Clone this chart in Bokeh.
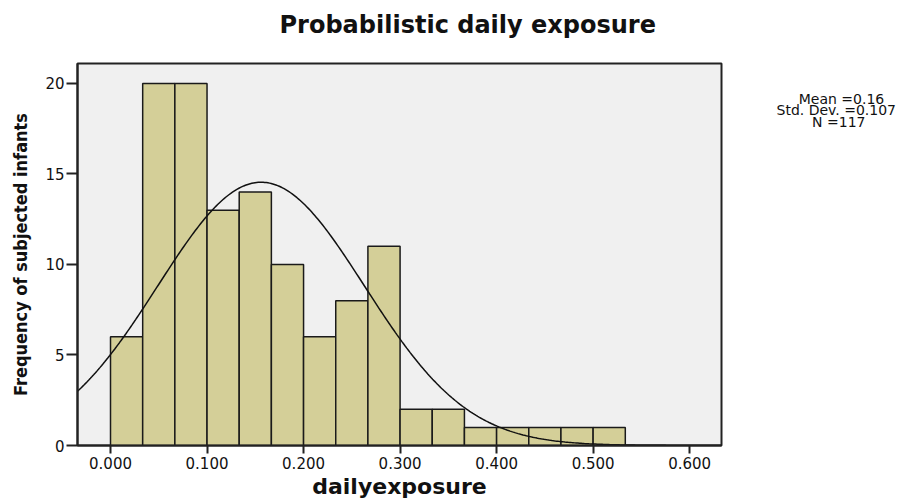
import numpy as np
from bokeh.plotting import figure
from bokeh.models import Range1d, FixedTicker, LinearAxis, Title
from bokeh.embed import file_html
from bokeh.resources import INLINE

# ---- data ----
bin_left = [0.0, 1/30, 2/30, 3/30, 4/30, 5/30, 6/30, 7/30, 8/30, 9/30,
            10/30, 11/30, 12/30, 13/30, 14/30, 15/30]
bin_right = [b + 1/30 for b in bin_left]
counts = [6, 20, 20, 13, 14, 10, 6, 8, 11, 2, 2, 1, 1, 1, 1, 1]
x_ticks = [0.0, 0.1, 0.2, 0.3, 0.4, 0.5, 0.6]
x_tick_labels = ["0.000", "0.100", "0.200", "0.300", "0.400", "0.500", "0.600"]
y_ticks = [0, 5, 10, 15, 20]
mean_label, sd_label, n_label = "0.16", "0.107", "117"
mean_fit = 0.156      # unrounded mean used for the fitted curve
sd_fit = 0.107
n_obs = 117
bin_width = 1/30

XMIN, XMAX = -0.0342, 0.633
YMIN, YMAX = 0.0, 21.1
FRAME_H = 382

p = figure(width=900, height=502, output_backend="svg", toolbar_location=None,
           x_range=Range1d(XMIN, XMAX), y_range=Range1d(YMIN, YMAX),
           min_border_left=77, min_border_right=179, min_border_top=63,
           min_border_bottom=57)
p.title.text = ""

# spacer (closest to the frame) then the main title
p.add_layout(Title(text=" ", text_font_size="13px", standoff=8), "above")
p.add_layout(Title(text="Probabilistic daily exposure", text_font="DejaVu Sans",
                   text_font_style="bold", text_font_size="24px",
                   text_color="#111111", align="left", offset=202, standoff=0),
             "above")

p.background_fill_color = "#F0F0F0"
p.border_fill_color = "white"
p.outline_line_color = "#222222"
p.outline_line_width = 2
p.grid.visible = False

p.quad(left=bin_left, right=bin_right, bottom=0, top=counts,
       fill_color="#D4CF98", line_color="#1a1a1a", line_width=1.5)

xs = np.linspace(XMIN, XMAX, 400)
ys = n_obs * bin_width / (sd_fit * np.sqrt(2 * np.pi)) * np.exp(-0.5 * ((xs - mean_fit) / sd_fit) ** 2)
p.line(xs, ys, line_color="#111111", line_width=1.5)

p.xaxis.ticker = FixedTicker(ticks=x_ticks)
p.xaxis.major_label_overrides = {t: l for t, l in zip(x_ticks, x_tick_labels)}
p.yaxis.ticker = FixedTicker(ticks=y_ticks)
for ax in (p.xaxis, p.yaxis):
    ax.major_tick_in = 0
    ax.minor_tick_line_color = None
    ax.major_tick_line_width = 2
    ax.major_tick_line_color = "#222222"
    ax.axis_line_color = "#222222"
    ax.axis_line_width = 2
    ax.major_label_text_font = "DejaVu Sans"
    ax.major_label_text_color = "#111111"
    ax.axis_label_text_color = "#111111"
    ax.axis_label_text_font_style = "bold"
p.xaxis.major_tick_out = 8
p.yaxis.major_tick_out = 11
p.xaxis.major_label_text_font_size = "15px"
p.yaxis.major_label_text_font_size = "15px"
p.xaxis.major_label_standoff = 3
p.yaxis.major_label_standoff = 2

p.xaxis.axis_label = "dailyexposure"
p.xaxis.axis_label_text_font = "DejaVu Sans"
p.xaxis.axis_label_text_font_size = "22px"
p.xaxis.axis_label_standoff = 2
p.yaxis.axis_label = "Frequency of subjected infants"
p.yaxis.axis_label_text_font = "DejaVu Sans Condensed, Liberation Sans"
p.yaxis.axis_label_text_font_size = "18px"
p.yaxis.axis_label_standoff = 11

# statistics text block at the right, placed with a label-only axis
# (pixel scale: 0 = frame bottom, FRAME_H = frame top)
NB = "\u00a0"
stats_lines = [NB * 5 + "Mean =" + mean_label,
               "Std. Dev. =" + sd_label,
               NB * 8 + "N =" + n_label]
stats_pos = [FRAME_H - 35, FRAME_H - 46.5, FRAME_H - 58]
p.extra_y_ranges = {"stats": Range1d(0, FRAME_H)}
stats_axis = LinearAxis(y_range_name="stats",
                        ticker=FixedTicker(ticks=stats_pos),
                        major_label_overrides={v: t for v, t in zip(stats_pos, stats_lines)},
                        axis_line_color=None, major_tick_line_color=None,
                        minor_tick_line_color=None, major_tick_out=0, major_tick_in=0,
                        major_label_standoff=55,
                        major_label_text_font="DejaVu Sans",
                        major_label_text_font_size="14px",
                        major_label_text_color="#111111")
p.add_layout(stats_axis, "right")

open("out.html", "w").write(file_html(p, INLINE))
